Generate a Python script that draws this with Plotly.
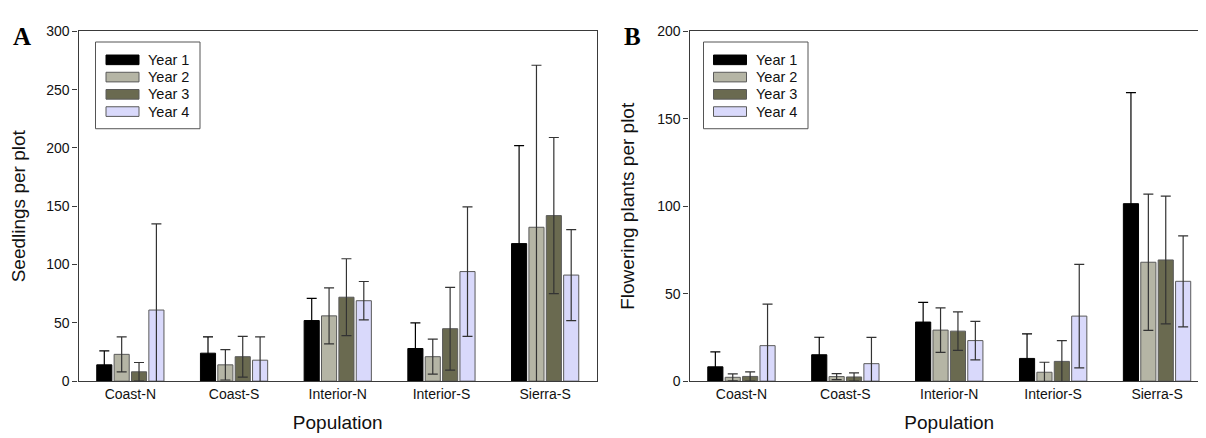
import plotly.graph_objects as go

W, H = 1206, 438

populations = ["Coast-N", "Coast-S", "Interior-N", "Interior-S", "Sierra-S"]
years = ["Year 1", "Year 2", "Year 3", "Year 4"]
colors = ["#000000", "#B5B5A5", "#6A6A50", "#D9D9FB"]

# Panel A: seedlings per plot (mean, error)
seed_y1 = [14, 24, 52, 28, 118]
seed_y2 = [23, 14, 56, 21, 132]
seed_y3 = [8, 21, 72, 45, 142]
seed_y4 = [61, 18, 69, 94, 91]
seed_e1 = [12, 14, 19, 22, 84]
seed_e2 = [15, 13, 24, 15, 139]
seed_e3 = [8, 17.5, 33, 35.5, 67]
seed_e4 = [74, 20, 16.5, 55.5, 39]

# Panel B: flowering plants per plot (mean, error)
flow_y1 = [8.2, 15.1, 33.8, 13, 101.5]
flow_y2 = [2.2, 2.6, 29.2, 5.1, 68]
flow_y3 = [2.7, 2.4, 28.6, 11.3, 69.3]
flow_y4 = [20.3, 10, 23.2, 37.2, 57.1]
flow_e1 = [8.6, 10, 11.3, 14, 63.5]
flow_e2 = [2, 1.7, 12.7, 5.7, 39]
flow_e3 = [2.6, 2.3, 11, 11.9, 36.5]
flow_e4 = [23.7, 15, 11, 29.6, 26]

seed_means = [seed_y1, seed_y2, seed_y3, seed_y4]
seed_errs = [seed_e1, seed_e2, seed_e3, seed_e4]
flow_means = [flow_y1, flow_y2, flow_y3, flow_y4]
flow_errs = [flow_e1, flow_e2, flow_e3, flow_e4]

FONT = "Liberation Sans, Arial, sans-serif"
TXT = "#111111"
AXC = "#3a3a3a"


def px_x(x):
    return x / W


def px_y(y):
    return (H - y) / H


fig = go.Figure()

for means, errs, xa, ya in [(seed_means, seed_errs, "x", "y"), (flow_means, flow_errs, "x2", "y2")]:
    for i, yr in enumerate(years):
        fig.add_trace(go.Bar(
            x=populations, y=means[i], name=yr, xaxis=xa, yaxis=ya,
            marker=dict(color=colors[i], line=dict(color="#5a5a5a" if i else "#000000", width=1)),
            error_y=dict(type="data", array=errs[i], visible=True,
                         color="#000000" if i == 0 else "#333333",
                         thickness=1.2, width=5),
            showlegend=False,
        ))

top, bottom = 16, 379
dA = [px_x(70.5), px_x(589)]
dB = [px_x(681.5), px_x(1201)]
dY = [px_y(bottom), px_y(top)]

axis_common = dict(showline=True, linecolor=AXC, linewidth=1.2, mirror=True,
                   showgrid=False, zeroline=False,
                   tickfont=dict(family=FONT, size=14, color=TXT))
title_font = dict(family=FONT, size=19, color=TXT)

fig.update_layout(
    width=W, height=H,
    margin=dict(l=0, r=0, t=0, b=0),
    paper_bgcolor="white", plot_bgcolor="white",
    barmode="group", bargap=0.33, bargroupgap=0.13,
    showlegend=False,
    xaxis=dict(domain=dA, anchor="y", ticks="", **axis_common,
               title=dict(text="Population", font=title_font, standoff=14)),
    yaxis=dict(domain=dY, anchor="x", range=[0, 300], tickvals=[0, 50, 100, 150, 200, 250, 300],
               ticks="outside", ticklen=5, tickcolor=AXC, **axis_common,
               title=dict(text="Seedlings per plot", font=title_font, standoff=15)),
    xaxis2=dict(domain=dB, anchor="y2", ticks="", **axis_common,
                title=dict(text="Population", font=title_font, standoff=14)),
    yaxis2=dict(domain=dY, anchor="x2", range=[0, 200], tickvals=[0, 50, 100, 150, 200],
                ticks="outside", ticklen=5, tickcolor=AXC, **axis_common,
                title=dict(text="Flowering plants per plot", font=title_font, standoff=17)),
)

# Panel letters
for letter, x in [("A", 14), ("B", 624)]:
    fig.add_annotation(text="<b>%s</b>" % letter, x=px_x(x), y=px_y(21), xref="paper", yref="paper",
                       showarrow=False, xanchor="center", yanchor="middle",
                       font=dict(family="Liberation Serif, Times New Roman, serif", size=25, color="#000000"))

# Legends (box, swatches, labels)
for (bx0, bx1, sx0) in [(87.5, 192, 98), (695.5, 800, 705.5)]:
    by0, by1 = 27, 117
    fig.add_shape(type="rect", xref="paper", yref="paper",
                  x0=px_x(bx0), x1=px_x(bx1), y0=px_y(by1), y1=px_y(by0),
                  line=dict(color="#555555", width=1), fillcolor="white")
    for i, yr in enumerate(years):
        cy = 45.5 + i * 17.9
        fig.add_shape(type="rect", xref="paper", yref="paper",
                      x0=px_x(sx0), x1=px_x(sx0 + 33), y0=px_y(cy + 5), y1=px_y(cy - 5),
                      line=dict(color="#5a5a5a" if i else "#000000", width=1), fillcolor=colors[i])
        fig.add_annotation(text=yr, x=px_x(sx0 + 40), y=px_y(cy), xref="paper", yref="paper",
                           showarrow=False, xanchor="left", yanchor="middle",
                           font=dict(family=FONT, size=14.5, color=TXT))

fig.write_html("out.html")
